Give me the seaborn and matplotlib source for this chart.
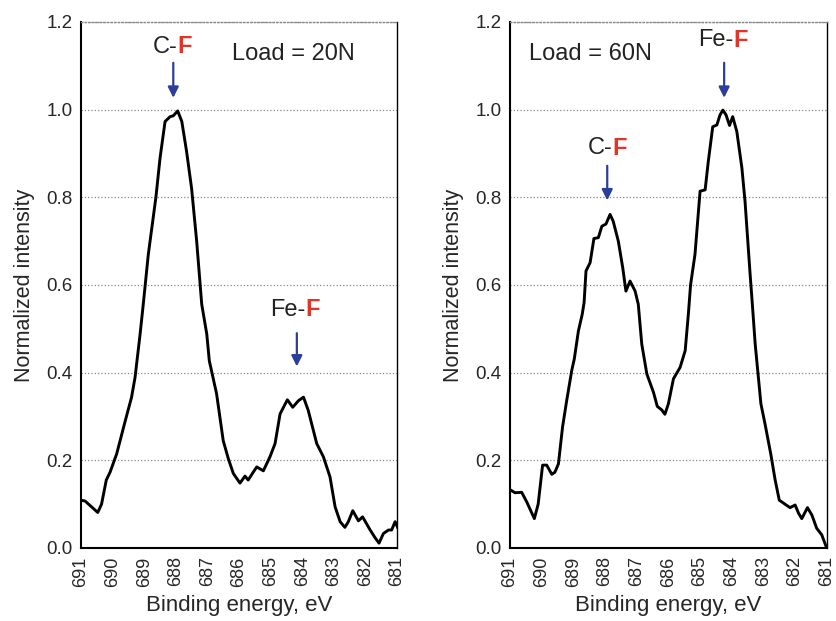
import numpy as np
import pandas as pd
import matplotlib.pyplot as plt
import seaborn as sns

# ── Data ──────────────────────────────────────────────────────────────────────
be_20n = [691.0, 690.87, 690.47, 690.35, 690.2, 690.08, 689.87, 689.6, 689.4, 689.29,
          689.13, 689.03, 688.87, 688.63, 688.5, 688.34, 688.18, 688.08, 687.94, 687.81,
          687.66, 687.5, 687.34, 687.18, 687.02, 686.94, 686.71, 686.5, 686.34, 686.18,
          685.97, 685.81, 685.71, 685.44, 685.23, 685.02, 684.86, 684.7, 684.47, 684.3,
          684.12, 683.96, 683.81, 683.54, 683.33, 683.12, 682.96, 682.8, 682.65, 682.54,
          682.4, 682.22, 682.09, 681.85, 681.7, 681.57, 681.43, 681.27, 681.17, 681.06,
          680.97]
int_20n = [0.109, 0.107, 0.081, 0.10, 0.155, 0.173, 0.215, 0.29, 0.344, 0.389,
           0.488, 0.556, 0.67, 0.80, 0.889, 0.973, 0.984, 0.986, 0.997, 0.973,
           0.905, 0.82, 0.70, 0.556, 0.488, 0.427, 0.352, 0.245, 0.204, 0.170,
           0.148, 0.164, 0.155, 0.185, 0.176, 0.208, 0.238, 0.306, 0.338, 0.321,
           0.336, 0.344, 0.314, 0.238, 0.208, 0.162, 0.094, 0.060, 0.047, 0.060,
           0.085, 0.062, 0.071, 0.041, 0.024, 0.011, 0.033, 0.041, 0.041, 0.060,
           0.045]

be_60n = [691.0, 690.84, 690.63, 690.47, 690.23, 690.11, 689.97, 689.84, 689.68, 689.58,
          689.47, 689.34, 689.21, 689.05, 688.97, 688.84, 688.72, 688.66, 688.6, 688.47,
          688.35, 688.21, 688.1, 687.97, 687.84, 687.74, 687.58, 687.44, 687.34, 687.21,
          687.05, 686.95, 686.84, 686.68, 686.47, 686.35, 686.21, 686.11, 686.0, 685.84,
          685.63, 685.47, 685.37, 685.3, 685.16, 685.0, 684.84, 684.74, 684.6, 684.47,
          684.37, 684.28, 684.18, 684.07, 683.97, 683.84, 683.68, 683.58, 683.42, 683.35,
          683.26, 683.08, 682.95, 682.77, 682.63, 682.5, 682.32, 682.16, 682.0, 681.89,
          681.79, 681.61, 681.47, 681.32, 681.16, 681.02]
int_60n = [0.133, 0.126, 0.127, 0.105, 0.067, 0.10, 0.189, 0.189, 0.168, 0.173,
           0.192, 0.276, 0.336, 0.405, 0.431, 0.495, 0.533, 0.56, 0.632, 0.651,
           0.706, 0.708, 0.734, 0.739, 0.761, 0.745, 0.70, 0.639, 0.586, 0.609,
           0.586, 0.556, 0.465, 0.397, 0.355, 0.323, 0.315, 0.305, 0.329, 0.386,
           0.412, 0.45, 0.533, 0.60, 0.67, 0.814, 0.817, 0.882, 0.961, 0.965,
           0.988, 0.999, 0.988, 0.964, 0.984, 0.95, 0.867, 0.79, 0.624, 0.556,
           0.465, 0.329, 0.283, 0.215, 0.155, 0.109, 0.10, 0.092, 0.098, 0.079,
           0.067, 0.092, 0.075, 0.045, 0.030, 0.003]

x_ticks = [691, 690, 689, 688, 687, 686, 685, 684, 683, 682, 681]
y_ticks = [0.0, 0.2, 0.4, 0.6, 0.8, 1.0, 1.2]

ARROW_BLUE = "#2B3E9C"
F_RED = "#E3342A"

sns.set_style("white")
plt.rcParams['font.family'] = ['Liberation Sans', 'DejaVu Sans']

fig = plt.figure(figsize=(8.36, 6.21), dpi=100)
ax1 = fig.add_axes([0.0969, 0.1176, 0.378, 0.847])
ax2 = fig.add_axes([0.610, 0.1176, 0.379, 0.847])


def peak_label(ax, x_split, y, name, arrow_x, arrow_top, arrow_tip):
    ax.text(x_split, y, f"{name}-", ha='right', va='center', fontsize=17, color='#222222')
    ax.text(x_split, y, "F", ha='left', va='center', fontsize=17,
            fontweight='bold', color=F_RED)
    ax.annotate("", xy=(arrow_x, arrow_tip), xytext=(arrow_x, arrow_top),
                arrowprops=dict(arrowstyle='-|>', color=ARROW_BLUE, lw=1.6,
                                mutation_scale=16, shrinkA=0, shrinkB=0))


def style_axes(ax, be, inten):
    df = pd.DataFrame({'be': be, 'intensity': inten})
    sns.lineplot(data=df, x='be', y='intensity', ax=ax, color='black',
                 linewidth=2.1, sort=False, estimator=None,
                 solid_joinstyle='round', solid_capstyle='round')
    ax.set_xlim(691, 681)
    ax.set_ylim(0, 1.2)
    ax.set_xticks(x_ticks)
    ax.set_xticklabels([str(t) for t in x_ticks], rotation=90, fontsize=13)
    ax.set_yticks(y_ticks)
    ax.set_yticklabels([f"{t:.1f}" for t in y_ticks], fontsize=13.5)
    ax.tick_params(axis='x', direction='in', length=4, width=1, color='#444444', pad=6)
    ax.tick_params(axis='y', length=0, pad=6)
    ax.yaxis.grid(True, linestyle=':', color='#888888', linewidth=0.9)
    ax.xaxis.grid(False)
    for side in ['left', 'bottom']:
        ax.spines[side].set_color('black')
        ax.spines[side].set_linewidth(1.5)
    ax.spines['right'].set_color('black')
    ax.spines['right'].set_linewidth(1.0)
    ax.spines['top'].set_color('#888888')
    ax.spines['top'].set_linestyle(':')
    ax.spines['top'].set_linewidth(1.0)
    ax.set_xlabel('Binding energy, eV', fontsize=16, labelpad=6)
    ax.set_ylabel('Normalized intensity', fontsize=15.5, labelpad=8)


style_axes(ax1, be_20n, int_20n)
style_axes(ax2, be_60n, int_60n)

# left panel: Load = 20N
peak_label(ax1, 687.94, 1.143, "C", 688.08, 1.107, 1.027)
peak_label(ax1, 683.89, 0.543, "Fe", 684.17, 0.490, 0.414)
ax1.text(686.21, 1.128, "Load = 20N", ha='left', va='center', fontsize=17, color='#222222')

# right panel: Load = 60N
peak_label(ax2, 683.95, 1.158, "Fe", 684.24, 1.107, 1.027)
peak_label(ax2, 687.77, 0.912, "C", 687.93, 0.872, 0.793)
ax2.text(690.39, 1.128, "Load = 60N", ha='left', va='center', fontsize=17, color='#222222')

fig.savefig("out.png", dpi=100)
plt.close(fig)
